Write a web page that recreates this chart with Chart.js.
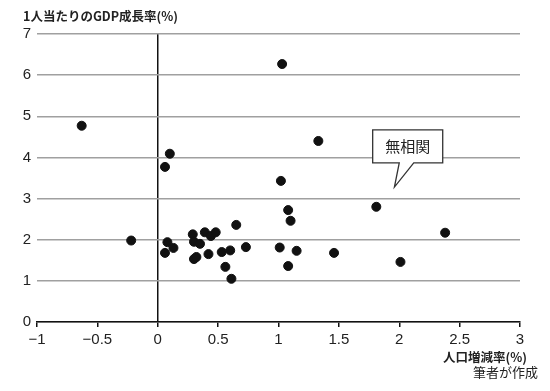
<!DOCTYPE html>
<html>
<head>
<meta charset="utf-8">
<script src="https://cdn.jsdelivr.net/npm/chart.js@4"></script>
<style>
  body { margin: 0; background: #fff; }
  canvas { display: block; }
</style>
</head>
<body>
<canvas id="myChart" width="550" height="391"></canvas>
<script>
// 人口増減率(%) と 1人当たりのGDP成長率(%)
const xValues = [-0.63, 0.06, 0.10, 1.03, 1.33, 1.02, 1.08, 1.10, 1.81, 2.38,
                 1.01, 1.15, 1.08, 1.46, 2.01, -0.22, 0.08, 0.06, 0.13, 0.29,
                 0.30, 0.35, 0.30, 0.32, 0.39, 0.44, 0.48, 0.42, 0.65, 0.53,
                 0.60, 0.56, 0.61, 0.73];
const yValues = [4.77, 3.77, 4.09, 6.27, 4.40, 3.43, 2.72, 2.46, 2.80, 2.17,
                 1.81, 1.73, 1.36, 1.68, 1.46, 1.98, 1.94, 1.68, 1.80, 2.13,
                 1.95, 1.90, 1.53, 1.58, 2.18, 2.09, 2.18, 1.65, 2.36, 1.70,
                 1.74, 1.34, 1.05, 1.82];
const xTickLabels = ['−1', '−0.5', '0', '0.5', '1', '1.5', '2', '2.5', '3'];
const yTickLabels = ['0', '1', '2', '3', '4', '5', '6', '7'];

const yTitle = '1人当たりのGDP成長率(%)';
const xTitle = '人口増減率(%)';
const sourceNote = '筆者が作成';
const calloutText = '無相関';
// callout in data units: box corners, tail base, tail tip
const callout = { x1: 1.78, y1: 4.67, x2: 2.36, y2: 3.87, baseA: 2.00, baseB: 2.12, tipX: 1.96, tipY: 3.28 };

const points = xValues.map((x, i) => ({ x: x, y: yValues[i] }));

const extras = {
  id: 'extras',
  afterDatasetsDraw(chart) {
    const c = chart.ctx;
    const xs = chart.scales.x, ys = chart.scales.y;
    c.save();
    // callout box
    const l = xs.getPixelForValue(callout.x1), r = xs.getPixelForValue(callout.x2);
    const t = ys.getPixelForValue(callout.y1), b = ys.getPixelForValue(callout.y2);
    const ba = xs.getPixelForValue(callout.baseA), bb = xs.getPixelForValue(callout.baseB);
    const tx = xs.getPixelForValue(callout.tipX), ty = ys.getPixelForValue(callout.tipY);
    c.beginPath();
    c.moveTo(l, t); c.lineTo(r, t); c.lineTo(r, b);
    c.lineTo(bb, b); c.lineTo(tx, ty); c.lineTo(ba, b);
    c.lineTo(l, b); c.closePath();
    c.fillStyle = '#fff';
    c.fill();
    c.strokeStyle = '#333';
    c.lineWidth = 1.3;
    c.stroke();
    c.fillStyle = '#222';
    c.font = '15px "Noto Sans CJK JP"';
    c.textAlign = 'center';
    c.textBaseline = 'middle';
    c.fillText(calloutText, (l + r) / 2, (t + b) / 2);

    // titles
    c.font = 'bold 12.5px "Noto Sans CJK JP"';
    c.textAlign = 'left';
    c.fillText(yTitle, 23, 16);
    c.textAlign = 'right';
    c.fillText(xTitle, 527, 357);
    c.font = '13px "Noto Sans CJK JP"';
    c.fillText(sourceNote, 538, 372);
    c.restore();
  }
};

new Chart(document.getElementById('myChart'), {
  type: 'scatter',
  data: {
    datasets: [{
      data: points,
      backgroundColor: '#111',
      borderColor: '#111',
      pointRadius: 4.5,
      pointHoverRadius: 4.5
    }]
  },
  options: {
    responsive: false,
    animation: false,
    layout: { padding: { left: 0, right: 30, top: 34, bottom: 0 } },
    plugins: { legend: { display: false }, tooltip: { enabled: false } },
    scales: {
      x: {
        type: 'linear',
        min: -1, max: 3,
        afterFit: s => { s.height = 69; },
        ticks: {
          stepSize: 0.5,
          color: '#222',
          font: { family: 'Liberation Sans', size: 15 },
          padding: 4,
          maxRotation: 0,
          callback: (v, i) => xTickLabels[i]
        },
        grid: {
          drawOnChartArea: true,
          color: ctx => (ctx.tick && ctx.tick.value === 0) ? '#111' : 'rgba(0,0,0,0)',
          lineWidth: 1.5,
          tickColor: '#111',
          tickLength: 5
        },
        border: { display: true, color: '#111', width: 1.5 }
      },
      y: {
        min: 0, max: 7,
        afterFit: s => { s.width = 37; },
        ticks: {
          stepSize: 1,
          color: '#222',
          font: { family: 'Liberation Sans', size: 15 },
          padding: 6,
          callback: (v, i) => yTickLabels[i]
        },
        grid: { color: '#a0a0a0', lineWidth: 1.5, drawTicks: false },
        border: { display: false }
      }
    }
  },
  plugins: [extras]
});
</script>
</body>
</html>
